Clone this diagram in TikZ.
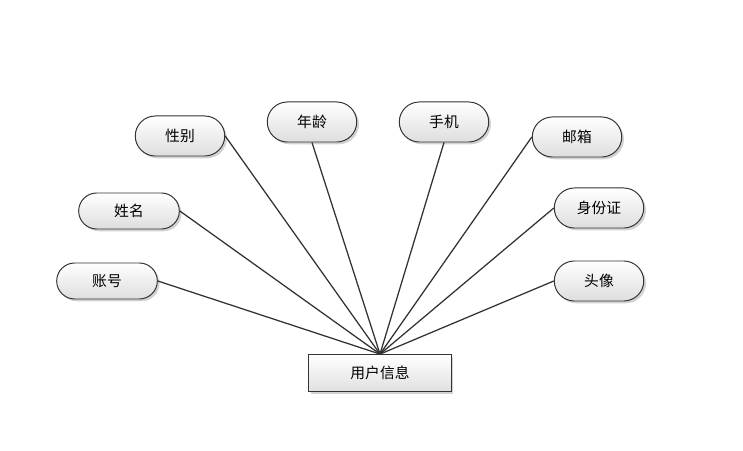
\documentclass[tikz,border=0pt]{standalone}
\usepackage{fontspec}
\newfontfamily\cjk{Noto Sans CJK SC}
\usetikzlibrary{shapes.misc, shadows}

\begin{document}
\begin{tikzpicture}[x=0.025cm, y=-0.025cm,
  attr/.style={rounded rectangle, draw=black!80, line width=0.7pt, minimum width=2.47cm, minimum height=1cm,
    top color=white, bottom color=black!13, drop shadow={shadow xshift=1.6pt, shadow yshift=-1.6pt, fill=black!35},
    font=\cjk\fontsize{10.5}{12}\selectfont},
  ent/.style={rectangle, draw=black!80, line width=0.7pt, minimum width=3.55cm, minimum height=0.92cm,
    top color=white, bottom color=black!12, drop shadow={shadow xshift=1.6pt, shadow yshift=-1.6pt, fill=black!35},
    font=\cjk\fontsize{10.5}{12}\selectfont},
  link/.style={draw=black!80, line width=0.9pt}]
  \useasboundingbox (0,0) rectangle (743,451);
  % entity
  \node[ent] (user) at (380,373) {用户信息};
  % attributes
  \node[attr] (sex) at (180,136) {性别};
  \node[attr] (age) at (312,122) {年龄};
  \node[attr] (phone) at (444,122) {手机};
  \node[attr] (mail) at (577,137) {邮箱};
  \node[attr, minimum width=2.75cm, minimum height=0.9cm] (name) at (129,211) {姓名};
  \node[attr] (idcard) at (599,208) {身份证};
  \node[attr, minimum width=2.75cm, minimum height=0.9cm] (account) at (107,281) {账号};
  \node[attr] (avatar) at (599,281) {头像};
  % links
  \foreach \a/\p in {sex/east, name/east, account/east, age/south, phone/south, mail/west, idcard/west, avatar/west}
    \draw[link] (\a.\p) -- (user.north);
\end{tikzpicture}
\end{document}
